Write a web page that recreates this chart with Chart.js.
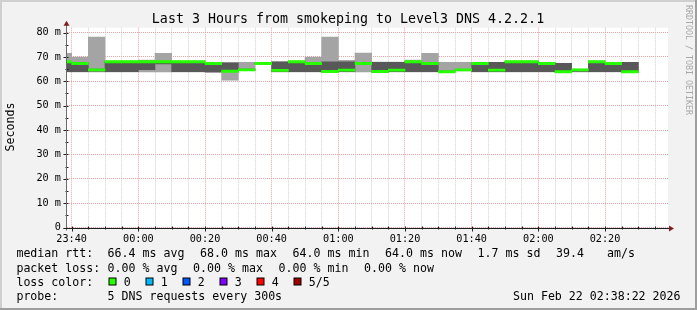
<!DOCTYPE html>
<html>
<head>
<meta charset="utf-8">
<title>Last 3 Hours from smokeping to Level3 DNS 4.2.2.1</title>
<script src="https://cdn.jsdelivr.net/npm/chart.js@4.4.1/dist/chart.umd.min.js"></script>
<style>
  html, body { margin: 0; padding: 0; background: #f2f2f2; }
  #wrap { position: relative; width: 697px; height: 310px; }
</style>
</head>
<body>
<div id="wrap"><canvas id="chart" width="697" height="310"></canvas></div>
<script>
// one entry per 5 minute step (start time), five DNS pings each, in ms
const stepStarts = ['23:35','23:40','23:45','23:50','23:55','00:00','00:05','00:10','00:15','00:20',
                    '00:25','00:30','00:35','00:40','00:45','00:50','00:55','01:00','01:05','01:10',
                    '01:15','01:20','01:25','01:30','01:35','01:40','01:45','01:50','01:55','02:00',
                    '02:05','02:10','02:15','02:20','02:25'];
const rttMin    = [63.9,63.9,63.9,63.9,63.9,63.9,63.9,63.9,63.9,63.5,60.5,64.4,67.1,63.9,63.9,63.9,63.8,63.9,63.9,63.7,
                   63.9,63.9,63.9,63.7,64.3,63.9,63.9,63.9,63.9,63.9,63.6,63.9,63.9,63.9,63.7];
const rttLow    = [64.0,64.0,64.2,64.0,64.0,64.8,67.1,64.0,64.0,64.0,64.0,64.5,67.2,64.0,64.0,64.0,63.9,64.0,67.0,63.8,
                   64.0,64.0,64.0,63.8,64.5,64.0,64.0,64.0,64.0,64.0,63.7,64.1,64.0,64.0,63.8];
const rttMedian = [68.0,67.3,64.7,68.0,68.0,68.0,68.0,68.0,68.0,67.3,64.1,64.7,67.3,64.5,68.0,67.3,64.0,64.6,67.3,64.0,
                   64.6,68.0,67.3,63.9,64.7,67.3,64.6,68.0,68.0,67.3,63.9,64.7,68.0,67.3,63.9];
const rttHigh   = [68.2,67.6,65.0,68.2,68.2,68.2,68.2,68.2,68.2,67.6,67.6,65.0,67.4,68.0,68.2,67.6,68.0,68.0,67.6,67.8,
                   67.8,68.2,67.6,64.2,64.9,67.6,67.8,68.2,68.2,67.6,67.4,64.9,68.2,67.6,67.8];
const rttMax    = [71.5,69.9,78.1,68.3,68.3,68.7,71.5,68.3,68.3,67.8,67.7,67.8,67.5,68.0,68.3,69.9,78.1,68.6,71.6,67.9,
                   67.9,68.7,71.5,67.8,67.8,67.7,67.8,68.3,68.3,67.7,67.4,65.0,68.3,67.7,67.8];

const yTicks = [0, 10, 20, 30, 40, 50, 60, 70, 80];
const xTickLabels = ['23:40','00:00','00:20','00:40','01:00','01:20','01:40','02:00','02:20'];
const lossLabels = ['0', '1', '2', '3', '4', '5/5'];
const lossColors = ['#26ff00', '#00b8ff', '#0059ff', '#7e00ff', '#ff0000', '#a10000'];

const titleText = 'Last 3 Hours from smokeping to Level3 DNS 4.2.2.1';
const legendRows = [
  [['median rtt:', 16.4], ['66.4 ms avg', 107.6], ['68.0 ms max', 200.1], ['64.0 ms min', 292.6],
   ['64.0 ms now', 385.1], ['1.7 ms sd', 477.6], ['39.4', 556.1], ['am/s', 607]],
  [['packet loss:', 16.4], ['0.00 % avg', 107.6], ['0.00 % max', 193.1], ['0.00 % min', 278.6], ['0.00 % now', 364.1]],
  [['loss color:', 16.4]],
  [['probe:', 16.4], ['5 DNS requests every 300s', 107.6]]
];
const stampText = 'Sun Feb 22 02:38:22 2026';

const W = 697, H = 310;
const MONO = '"DejaVu Sans Mono", monospace';
const xMin = -21.4, xMax = 158.9;   // minutes from 00:00
const medianHalf = 0.46;            // half thickness of the median line, ms

function toMinutes(hhmm) {
  const [h, m] = hhmm.split(':').map(Number);
  return h >= 12 ? h * 60 + m - 1440 : h * 60 + m;
}
function fmtMinutes(v) {
  const t = ((v % 1440) + 1440) % 1440;
  return String(Math.floor(t / 60)).padStart(2, '0') + ':' + String(t % 60).padStart(2, '0');
}

const centers = stepStarts.map(s => toMinutes(s) + 2.5);
const majorX = xTickLabels.map(toMinutes);

function everyFive(axis) {
  const t = [];
  for (let v = Math.ceil(axis.min / 5) * 5; v <= axis.max; v += 5) t.push({ value: v });
  axis.ticks = t;
}

const frame = {
  id: 'frame',
  beforeDraw(chart) {
    const { ctx, chartArea: a } = chart;
    ctx.save();
    ctx.fillStyle = '#f2f2f2';
    ctx.fillRect(0, 0, W, H);
    ctx.fillStyle = '#cfcfcf';
    ctx.fillRect(0, 0, W, 2);
    ctx.fillRect(0, 0, 2, H);
    ctx.fillStyle = '#9e9e9e';
    ctx.fillRect(0, H - 2, W, 2);
    ctx.fillRect(W - 2, 0, 2, H);
    ctx.fillStyle = '#ffffff';
    ctx.fillRect(a.left, a.top, a.right - a.left, a.bottom - a.top);
    ctx.restore();
  },
  afterDatasetsDraw(chart) {
    const { ctx, chartArea: a, scales } = chart;
    const ax = Math.round(a.left) - 0.5;
    const ay = Math.round(a.bottom) + 0.5;
    ctx.save();
    ctx.lineWidth = 1;
    // tick marks
    ctx.strokeStyle = '#1f1f1f';
    ctx.beginPath();
    for (let v = 0; v <= 80; v += 5) {
      const y = Math.round(scales.y.getPixelForValue(v)) + 0.5;
      ctx.moveTo(ax - (v % 10 === 0 ? 3 : 1), y);
      ctx.lineTo(ax + 2, y);
    }
    for (let v = -20; v <= xMax; v += 5) {
      const x = Math.round(scales.x.getPixelForValue(v)) + 0.5;
      const major = majorX.includes(v);
      ctx.moveTo(x, ay + (major ? 3 : 1));
      ctx.lineTo(x, ay - 2);
    }
    ctx.stroke();
    // y axis
    ctx.strokeStyle = '#6a6a6a';
    ctx.beginPath();
    ctx.moveTo(ax, ay + 2);
    ctx.lineTo(ax, a.top - 3);
    ctx.stroke();
    // x axis
    ctx.strokeStyle = '#1f1f1f';
    ctx.beginPath();
    ctx.moveTo(ax - 3, ay);
    ctx.lineTo(a.right + 2, ay);
    ctx.stroke();
    // arrows
    ctx.fillStyle = '#801f1f';
    ctx.beginPath();
    ctx.moveTo(ax, a.top - 7);
    ctx.lineTo(ax + 3, a.top - 2);
    ctx.lineTo(ax - 3, a.top - 2);
    ctx.closePath();
    ctx.fill();
    ctx.beginPath();
    ctx.moveTo(a.right + 6, ay);
    ctx.lineTo(a.right + 1, ay - 3);
    ctx.lineTo(a.right + 1, ay + 3);
    ctx.closePath();
    ctx.fill();
    ctx.restore();
  },
  afterDraw(chart) {
    const { ctx } = chart;
    ctx.save();
    ctx.fillStyle = '#000';
    ctx.textBaseline = 'alphabetic';

    ctx.font = '13.3px ' + MONO;
    ctx.textAlign = 'center';
    ctx.fillText(titleText, 348, 23.3);

    ctx.font = '11.6px ' + MONO;
    ctx.save();
    ctx.translate(11, 127);
    ctx.rotate(-Math.PI / 2);
    ctx.textBaseline = 'middle';
    ctx.fillText('Seconds', 0, 0);
    ctx.restore();

    ctx.save();
    ctx.translate(688, 60);
    ctx.rotate(Math.PI / 2);
    ctx.textBaseline = 'middle';
    ctx.fillStyle = '#a8a8a8';
    ctx.font = '8.3px ' + MONO;
    ctx.fillText('RRDTOOL / TOBI OETIKER', 0, 0);
    ctx.restore();

    const baselines = [257.3, 271.5, 285.8, 300];
    ctx.textAlign = 'left';
    legendRows.forEach((row, r) => {
      row.forEach(([txt, x]) => ctx.fillText(txt, x, baselines[r]));
    });
    lossLabels.forEach((lab, i) => {
      const sx = 108.5 + i * 37;
      ctx.fillStyle = '#000';
      ctx.fillRect(sx, 277.5, 8, 8);
      ctx.fillStyle = lossColors[i];
      ctx.fillRect(sx + 1, 278.5, 6, 6);
      ctx.fillStyle = '#000';
      ctx.fillText(lab, sx + 15.2, baselines[2]);
    });
    ctx.textAlign = 'right';
    ctx.fillText(stampText, 680.5, baselines[3]);
    ctx.restore();
  }
};

const floatSet = (lo, hi, color, order) => ({
  data: centers.map((x, i) => ({ x, y: [lo(i), hi(i)] })),
  backgroundColor: color,
  borderWidth: 0,
  grouped: false,
  order,
  clip: 0,
  barPercentage: 1,
  categoryPercentage: 1
});

new Chart(document.getElementById('chart'), {
  type: 'bar',
  data: {
    datasets: [
      floatSet(i => rttMin[i], i => rttMax[i], '#a4a4a4', 3),
      floatSet(i => rttLow[i], i => rttHigh[i], '#585858', 2),
      floatSet(i => rttMedian[i] - medianHalf, i => rttMedian[i] + medianHalf, lossColors[0], 1)
    ]
  },
  options: {
    responsive: false,
    animation: false,
    events: [],
    devicePixelRatio: 1,
    layout: { padding: { top: 27.7, right: W - 668, left: 0, bottom: 0 } },
    plugins: { legend: { display: false }, tooltip: { enabled: false }, title: { display: false } },
    scales: {
      x: {
        type: 'linear',
        min: xMin,
        max: xMax,
        offset: false,
        afterBuildTicks: everyFive,
        afterFit(scale) { scale.height = H - 227.5; },
        grid: {
          offset: false,
          drawTicks: false,
          color: c => majorX.includes(c.tick && c.tick.value) ? '#eba4a4' : '#d0d0d0'
        },
        border: { display: false, dash: [1, 1] },
        ticks: {
          autoSkip: false,
          maxRotation: 0,
          padding: 5.5,
          color: '#000',
          font: { family: MONO, size: 10.2 },
          callback: v => majorX.includes(v) ? fmtMinutes(v) : ''
        }
      },
      y: {
        min: 0,
        max: 82,
        afterBuildTicks: everyFive,
        afterFit(scale) { scale.width = 67; },
        grid: {
          drawTicks: false,
          color: c => (c.tick && c.tick.value % 10 === 0) ? '#eba4a4' : '#d0d0d0'
        },
        border: { display: false, dash: [1, 1] },
        ticks: {
          padding: 6,
          color: '#000',
          font: { family: MONO, size: 10.2 },
          callback: v => yTicks.includes(v) ? (v === 0 ? '0' : v + ' m') : ''
        }
      }
    }
  },
  plugins: [frame]
});
</script>
</body>
</html>
